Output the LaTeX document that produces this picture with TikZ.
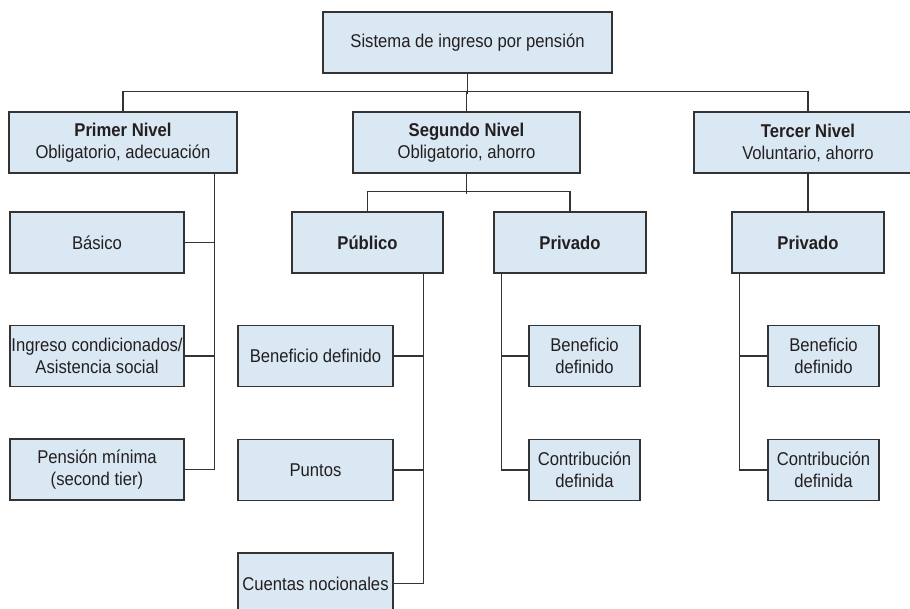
\documentclass[tikz,border=0pt]{standalone}
\usepackage{fontspec}
\setmainfont{Liberation Sans}[FakeStretch=0.9]
\definecolor{boxfill}{RGB}{218,232,243}
\definecolor{boxline}{RGB}{51,51,51}
\definecolor{txt}{RGB}{35,31,32}
\begin{document}
\begin{tikzpicture}[x=1pt,y=-1pt,
  box/.style={draw=boxline, fill=boxfill, line width=1.3pt, text=txt,
    minimum height=61pt, inner sep=0pt, align=center,
    font=\fontsize{18.5}{22}\selectfont},
  conn/.style={draw=boxline, line width=1.2pt}]
\useasboundingbox (0,0) rectangle (910,608);
% level 0
\node[box, minimum width=289pt] (top) at (467.5,42.5) {Sistema de ingreso por pensión};
% level 1
\node[box, minimum width=228pt] (primer) at (123,142.5) {\textbf{Primer Nivel}\\Obligatorio, adecuación};
\node[box, minimum width=227pt] (segundo) at (466.5,142.5) {\textbf{Segundo Nivel}\\Obligatorio, ahorro};
\node[box, minimum width=228pt] (tercer) at (808,142.5) {\textbf{Tercer Nivel}\\Voluntario, ahorro};
% level 2
\node[box, minimum width=174pt] (basico) at (97,242.5) {Básico};
\node[box, minimum width=151pt] (publico) at (367.5,242.5) {\textbf{Público}};
\node[box, minimum width=152pt] (privado2) at (570,242.5) {\textbf{Privado}};
\node[box, minimum width=152pt] (privado3) at (808,242.5) {\textbf{Privado}};
% level 3
\node[box, minimum width=174pt] (ingreso) at (97,356) {Ingreso condicionados/\\Asistencia social};
\node[box, minimum width=155pt] (benef1) at (315.5,356) {Beneficio definido};
\node[box, minimum width=111pt] (benef2) at (584.5,356) {Beneficio\\definido};
\node[box, minimum width=111pt] (benef3) at (823.5,356) {Beneficio\\definido};
% level 4
\node[box, minimum width=174pt] (pension) at (97,469.5) {Pensión mínima\\(second tier)};
\node[box, minimum width=155pt] (puntos) at (315.5,470) {Puntos};
\node[box, minimum width=111pt] (contrib2) at (584.5,470) {Contribución\\definida};
\node[box, minimum width=111pt] (contrib3) at (823.5,470) {Contribución\\definida};
% level 5
\node[box, minimum width=155pt] (cuentas) at (315.5,583.5) {Cuentas nocionales};
% connectors
\draw[conn] (top.south) -- ++(0,20);
\draw[conn] (primer.north) -- ++(0,-19.5) -| (tercer.north);
\draw[conn] (segundo.north) -- ++(0,-19.5);
% primer nivel spine
\draw[conn] ([xshift=30pt]basico.east |- primer.south) |- (pension.east);
\draw[conn] (basico.east) -- ++(30,0);
\draw[conn] (ingreso.east) -- ++(30,0);
% segundo nivel
\draw[conn] (segundo.south) -- ++(0,20);
\draw[conn] (publico.north) -- ++(0,-19.5) -| (privado2.north);
\draw[conn] ([xshift=-20pt]publico.south east) |- (cuentas.east);
\draw[conn] (benef1.east) -- ++(30,0);
\draw[conn] (puntos.east) -- ++(30,0);
\draw[conn] ([xshift=8pt]privado2.south west) |- (contrib2.west);
\draw[conn] (benef2.west) -- ++(-27,0);
% tercer nivel
\draw[conn] (tercer.south) -- (privado3.north);
\draw[conn] ([xshift=8pt]privado3.south west) |- (contrib3.west);
\draw[conn] (benef3.west) -- ++(-27,0);
\end{tikzpicture}
\end{document}
